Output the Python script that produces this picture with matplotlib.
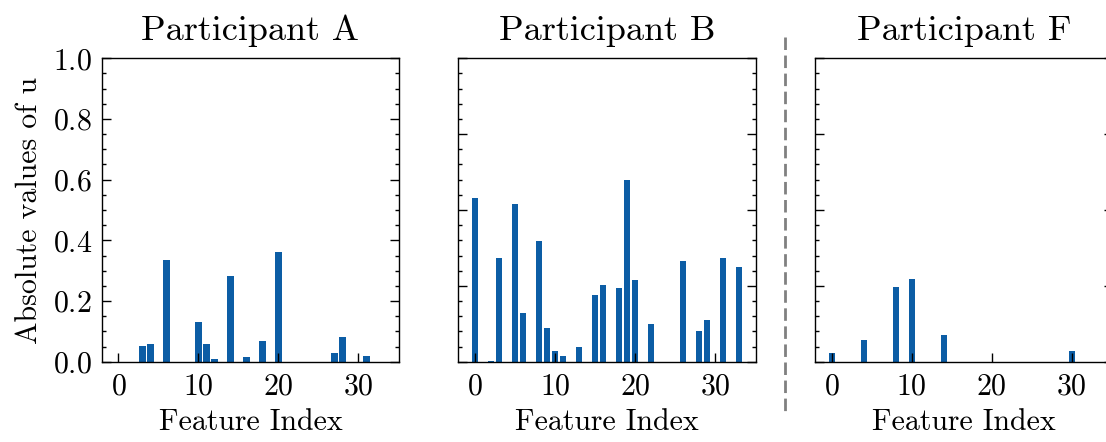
import numpy as np
import matplotlib
matplotlib.use("Agg")
from matplotlib import pyplot as plt
from matplotlib.ticker import MultipleLocator
from matplotlib.lines import Line2D

plt.rcParams['font.family'] = 'cmr10'
plt.rcParams['mathtext.fontset'] = 'cm'
plt.rcParams['axes.formatter.use_mathtext'] = True

n_features = 34
feature_idx = np.arange(n_features)

# |u| values (index -> value), zeros elsewhere
vals_A = {3: 0.052, 4: 0.058, 6: 0.335, 10: 0.131, 11: 0.058, 12: 0.009,
          14: 0.282, 16: 0.015, 18: 0.068, 20: 0.362, 27: 0.029, 28: 0.081,
          31: 0.019}
vals_B = {0: 0.540, 2: 0.003, 3: 0.342, 5: 0.520, 6: 0.160, 8: 0.398,
          9: 0.111, 10: 0.035, 11: 0.019, 13: 0.048, 15: 0.220, 16: 0.253,
          18: 0.243, 19: 0.599, 20: 0.269, 22: 0.124, 26: 0.332, 28: 0.101,
          29: 0.137, 31: 0.342, 33: 0.312}
vals_F = {0: 0.029, 4: 0.071, 8: 0.246, 10: 0.273, 14: 0.088, 30: 0.035}

titles = ['Participant A', 'Participant B', 'Participant F']
series = [vals_A, vals_B, vals_F]

W, H = 1106, 442
fig = plt.figure(figsize=(W/100, H/100), dpi=100)

lefts = [101.7, 458.3, 815.0]
ax_w = 297.5
ax_top, ax_bot = 58.3, 361.7
fs = 21.5

axes = []
for i, (title, vals) in enumerate(zip(titles, series)):
    ax = fig.add_axes([lefts[i]/W, 1-ax_bot/H, ax_w/W, (ax_bot-ax_top)/H])
    y = np.zeros(n_features)
    for k, v in vals.items():
        y[k] = v
    ax.bar(feature_idx, y, width=0.8, color='#0C5DA5')
    ax.set_ylim(0, 1.0)
    ax.set_title(title, fontsize=26, pad=13)
    ax.set_xlabel('Feature Index', fontsize=fs, labelpad=6)
    ax.xaxis.set_major_locator(MultipleLocator(10))
    ax.yaxis.set_minor_locator(MultipleLocator(0.05))
    ax.tick_params(axis='both', which='both', direction='in', labelsize=fs)
    ax.tick_params(axis='y', which='both', left=True, right=True)
    ax.tick_params(axis='y', which='major', length=6.5, width=1, pad=7)
    ax.tick_params(axis='y', which='minor', length=3.2, width=1)
    ax.tick_params(axis='x', which='major', length=6.5, width=1, top=False, pad=8)
    if i == 0:
        ax.yaxis.set_major_locator(MultipleLocator(0.2))
        ax.set_ylabel('Absolute values of u', fontsize=fs, labelpad=7)
    else:
        ax.yaxis.set_major_locator(MultipleLocator(0.25))
        ax.tick_params(axis='y', labelleft=False)
    for sp in ax.spines.values():
        sp.set_linewidth(1.0)
    axes.append(ax)

# dashed separator between B and F
fig.add_artist(Line2D([785/W, 785/W], [1-37/H, 1-412/H], transform=fig.transFigure,
                      color='gray', linestyle=(0, (4.5, 2)), linewidth=2))

fig.savefig('out.png', dpi=100)
